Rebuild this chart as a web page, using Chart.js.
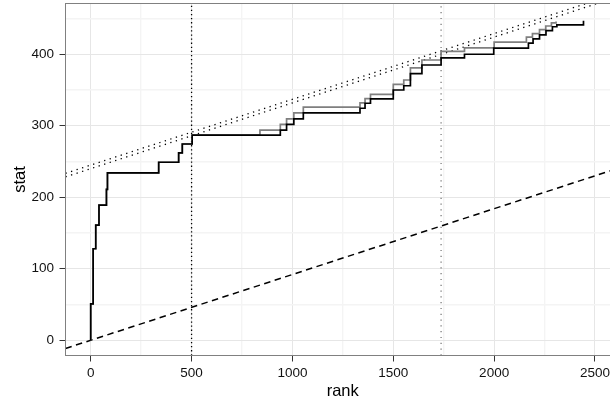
<!DOCTYPE html>
<html><head><meta charset="utf-8">
<script src="https://cdn.jsdelivr.net/npm/chart.js@4.4.1/dist/chart.umd.min.js"></script>
<style>
html,body{margin:0;padding:0;background:#fff;overflow:hidden;}
#wrap{width:610px;height:403px;overflow:hidden;position:relative;}
canvas{display:block;}
</style></head><body>
<div id="wrap"><canvas id="c" width="630" height="403" style="width:630px;height:403px"></canvas></div>
<script>
// ---- data ----
const blackRanks = [0, 0, 12, 25, 41, 78, 83, 337, 436, 454, 503, 940, 971, 1007, 1054, 1335, 1360, 1387, 1500, 1552, 1585, 1642, 1737, 1853, 1998, 2170, 2193, 2225, 2257, 2289, 2311, 2443];
const blackStats = [0, 51, 128, 161, 189, 211, 234, 249, 262, 274.5, 287, 294, 302, 309.5, 318, 324.5, 331.5, 337.5, 350, 356, 373, 385, 395, 400, 408.5, 415.5, 421.5, 427, 433, 438.5, 441, 447];
const grayRanks = [0, 0, 12, 25, 41, 78, 83, 337, 436, 454, 503, 839, 940, 971, 1007, 1054, 1335, 1360, 1387, 1500, 1552, 1585, 1642, 1737, 1853, 2000, 2160, 2190, 2225, 2256, 2284, 2307];
const grayStats = [0, 51, 128, 161, 189, 211, 234, 249, 262, 274.5, 287, 294, 302, 309.5, 318, 326, 332, 338, 344, 358, 364, 381, 392, 404, 409, 417, 424, 429, 434.5, 439.5, 444, 446];
const xTickLabels = [0, 500, 1000, 1500, 2000, 2500];
const xMinorTicks = [250, 750, 1250, 1750, 2250];
const yTickLabels = [0, 100, 200, 300, 400];
const yMinorTicks = [50, 150, 250, 350, 450];
const vlineRanks = [500, 1737];
const refSlope = 0.092;
const dottedIntercepts = [245, 240];
const dashedIntercept = 0;
const xRange = [-125, 2624];
const yRange = [-21.3, 471];

// ---- helpers ----
const FONT = "'Liberation Sans', Arial, Helvetica, sans-serif";
const pts = (xs, ys) => xs.map((x, i) => ({x: x, y: ys[i]}));
const abline = (a, b) => [{x: xRange[0], y: a + b * xRange[0]}, {x: xRange[1], y: a + b * xRange[1]}];
const vline = r => [{x: r, y: yRange[0]}, {x: r, y: yRange[1]}];
const lineBase = {showLine: true, pointRadius: 0, pointHoverRadius: 0, fill: false, borderCapStyle: 'butt', borderJoinStyle: 'miter'};

const panelBorder = {
  id: 'panelBorder',
  afterDatasetsDraw(chart) {
    const {ctx, chartArea: a} = chart;
    ctx.save();
    ctx.strokeStyle = '#808080';
    ctx.lineWidth = 1;
    ctx.strokeRect(a.left, a.top, a.right - a.left, a.bottom - a.top);
    ctx.restore();
  }
};

function gridOpts(majors) {
  const isMajor = c => c.tick && majors.includes(c.tick.value);
  return {
    color: c => isMajor(c) ? '#e6e6e6' : '#f4f4f4',
    lineWidth: c => isMajor(c) ? 1 : 1.4,
    tickColor: c => isMajor(c) ? '#333333' : 'rgba(0,0,0,0)',
    tickLength: 6,
    tickWidth: 1,
    drawTicks: true,
    drawOnChartArea: true
  };
}

new Chart(document.getElementById('c'), {
  type: 'scatter',
  data: {
    datasets: [
      Object.assign({}, lineBase, {label: 'black', data: pts(blackRanks, blackStats), stepped: 'before', borderColor: '#000000', borderWidth: 1.7}),
      Object.assign({}, lineBase, {label: 'gray', data: pts(grayRanks, grayStats), stepped: 'before', borderColor: '#7f7f7f', borderWidth: 1.7}),
      Object.assign({}, lineBase, {label: 'dot1', data: abline(dottedIntercepts[0], refSlope), borderColor: '#000', borderWidth: 1.3, borderDash: [1.3, 4.5], clip: 0}),
      Object.assign({}, lineBase, {label: 'dot2', data: abline(dottedIntercepts[1], refSlope), borderColor: '#000', borderWidth: 1.3, borderDash: [1.3, 4.5], clip: 0}),
      Object.assign({}, lineBase, {label: 'dashed', data: abline(dashedIntercept, refSlope), borderColor: '#000', borderWidth: 1.5, borderDash: [6.5, 4.5], clip: 0}),
      Object.assign({}, lineBase, {label: 'v1', data: vline(vlineRanks[0]), borderColor: '#000', borderWidth: 1.3, borderDash: [1.3, 2.8], clip: 0}),
      Object.assign({}, lineBase, {label: 'v2', data: vline(vlineRanks[1]), borderColor: '#707070', borderWidth: 1.2, borderDash: [1.2, 4.6], clip: 0})
    ]
  },
  options: {
    responsive: false,
    animation: false,
    events: [],
    devicePixelRatio: 1,
    layout: {padding: {top: 3.5, left: 0, right: 10, bottom: 0}},
    plugins: {legend: {display: false}, tooltip: {enabled: false}},
    scales: {
      x: {
        type: 'linear', min: xRange[0], max: xRange[1],
        afterBuildTicks: s => { s.ticks = xTickLabels.concat(xMinorTicks).sort((a, b) => a - b).map(v => ({value: v})); },
        afterFit: s => { s.height = 47.5; s.paddingLeft = 0; s.paddingRight = 0; },
        ticks: {
          callback: v => xTickLabels.includes(v) ? String(v) : '',
          autoSkip: false, maxRotation: 0, minRotation: 0, padding: 3.5,
          color: '#111111', font: {family: FONT, size: 13.5}
        },
        grid: gridOpts(xTickLabels),
        border: {display: false},
        title: {display: true, text: 'rank', color: '#000', font: {family: FONT, size: 16.5}, padding: {top: 0, bottom: 2.1}}
      },
      y: {
        type: 'linear', min: yRange[0], max: yRange[1],
        afterBuildTicks: s => { s.ticks = yTickLabels.concat(yMinorTicks).sort((a, b) => a - b).map(v => ({value: v})); },
        afterFit: s => { s.width = 65.5; s.paddingTop = 0; s.paddingBottom = 0; },
        ticks: {
          callback: v => yTickLabels.includes(v) ? String(v) : '',
          autoSkip: false, padding: 5.5,
          color: '#111111', font: {family: FONT, size: 13.5}
        },
        grid: gridOpts(yTickLabels),
        border: {display: false},
        title: {display: true, text: 'stat', color: '#000', font: {family: FONT, size: 16.5}, padding: {top: 10.1, bottom: 0}}
      }
    }
  },
  plugins: [panelBorder]
});
</script>
</body></html>
